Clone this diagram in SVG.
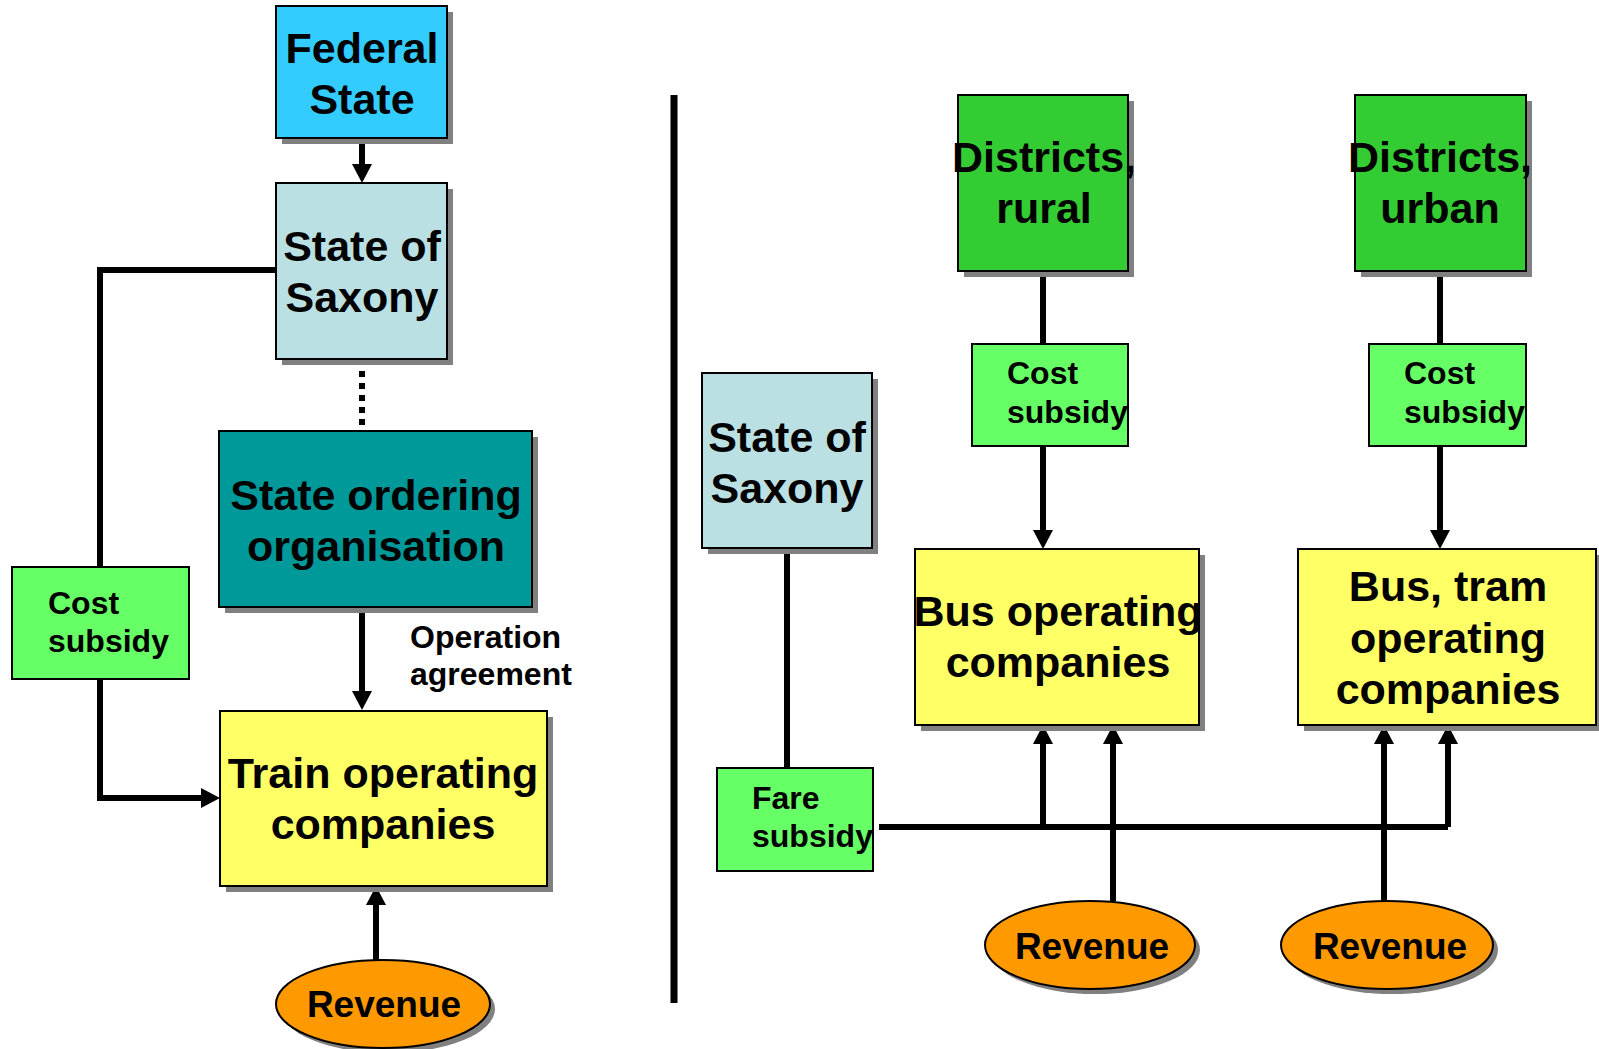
<svg xmlns="http://www.w3.org/2000/svg" width="1599" height="1049" viewBox="0 0 1599 1049">
<style>
text{font-family:"Liberation Sans",Arial,sans-serif;font-weight:bold;fill:#000}
.big{font-size:43px;text-anchor:middle}
.sm{font-size:32px}
.rev{font-size:37px;text-anchor:middle}
.box{stroke:#000;stroke-width:2}
.sh{fill:#808080}
.ln{fill:none;stroke:#000;stroke-width:6}
</style>
<defs>
<marker id="ah" viewBox="0 0 19 20" refX="2" refY="10" markerWidth="19" markerHeight="20" markerUnits="userSpaceOnUse" orient="auto">
<path d="M0,0 L19,10 L0,20 z" fill="#000"/>
</marker>
</defs>
<rect width="1599" height="1049" fill="#fff"/>

<g id="connectors">
<line class="ln" x1="674" y1="95" x2="674" y2="1003" style="stroke-width:7"/>
<path class="ln" d="M362,138 V166" marker-end="url(#ah)"/>
<path class="ln" d="M362,359 V431" style="stroke-dasharray:6 6"/>
<path class="ln" d="M362,607 V693" marker-end="url(#ah)"/>
<path class="ln" d="M376,960 V903" marker-end="url(#ah)"/>
<path class="ln" d="M276,270 H100 V567"/>
<path class="ln" d="M100,679 V798 H203" marker-end="url(#ah)"/>
<path class="ln" d="M1043,270 V344"/>
<path class="ln" d="M1440,270 V344"/>
<path class="ln" d="M1043,446 V532" marker-end="url(#ah)"/>
<path class="ln" d="M1440,446 V532" marker-end="url(#ah)"/>
<path class="ln" d="M787,548 V768"/>
<path class="ln" d="M879,827 H1448"/>
<path class="ln" d="M1043,827 V742" marker-end="url(#ah)"/>
<path class="ln" d="M1448,827 V742" marker-end="url(#ah)"/>
<path class="ln" d="M1113,901 V742" marker-end="url(#ah)"/>
<path class="ln" d="M1384,901 V742" marker-end="url(#ah)"/>
</g>

<g id="federal-state">
<rect class="sh" x="282" y="12" width="171" height="132"/>
<rect class="box" x="276" y="6" width="171" height="132" fill="#33CCFF"/>
<text class="big" x="362" y="63">Federal</text>
<text class="big" x="362" y="114">State</text>
</g>

<g id="state-of-saxony-left">
<rect class="sh" x="282" y="189" width="171" height="176"/>
<rect class="box" x="276" y="183" width="171" height="176" fill="#BBE0E3"/>
<text class="big" x="362" y="261">State of</text>
<text class="big" x="362" y="312">Saxony</text>
</g>

<g id="state-ordering-organisation">
<rect class="sh" x="225" y="437" width="313" height="176"/>
<rect class="box" x="219" y="431" width="313" height="176" fill="#009999"/>
<text class="big" x="376" y="510">State ordering</text>
<text class="big" x="376" y="561">organisation</text>
</g>

<g id="operation-agreement-label">
<text class="sm" x="410" y="648">Operation</text>
<text class="sm" x="410" y="685">agreement</text>
</g>

<g id="cost-subsidy-left">
<rect class="box" x="12" y="567" width="177" height="112" fill="#66FF66"/>
<text class="sm" x="48" y="614">Cost</text>
<text class="sm" x="48" y="652">subsidy</text>
</g>

<g id="train-operating-companies">
<rect class="sh" x="226" y="717" width="327" height="175"/>
<rect class="box" x="220" y="711" width="327" height="175" fill="#FFFF66"/>
<text class="big" x="383" y="788">Train operating</text>
<text class="big" x="383" y="839">companies</text>
</g>

<g id="revenue-left">
<ellipse class="sh" cx="388" cy="1009" rx="107" ry="44"/>
<ellipse class="box" cx="383" cy="1004" rx="107" ry="44" fill="#FF9900"/>
<text class="rev" x="384" y="1017">Revenue</text>
</g>

<g id="state-of-saxony-right">
<rect class="sh" x="708" y="379" width="170" height="175"/>
<rect class="box" x="702" y="373" width="170" height="175" fill="#BBE0E3"/>
<text class="big" x="787" y="452">State of</text>
<text class="big" x="787" y="503">Saxony</text>
</g>

<g id="fare-subsidy">
<rect class="box" x="717" y="768" width="156" height="103" fill="#66FF66"/>
<text class="sm" x="752" y="809">Fare</text>
<text class="sm" x="752" y="847">subsidy</text>
</g>

<g id="districts-rural">
<rect class="sh" x="964" y="101" width="170" height="176"/>
<rect class="box" x="958" y="95" width="170" height="176" fill="#33CC33"/>
<text class="big" x="1044" y="172">Districts,</text>
<text class="big" x="1044" y="223">rural</text>
</g>

<g id="cost-subsidy-rural">
<rect class="box" x="972" y="344" width="156" height="102" fill="#66FF66"/>
<text class="sm" x="1007" y="384">Cost</text>
<text class="sm" x="1007" y="423">subsidy</text>
</g>

<g id="bus-operating-companies">
<rect class="sh" x="921" y="555" width="284" height="176"/>
<rect class="box" x="915" y="549" width="284" height="176" fill="#FFFF66"/>
<text class="big" x="1058" y="626">Bus operating</text>
<text class="big" x="1058" y="677">companies</text>
</g>

<g id="districts-urban">
<rect class="sh" x="1361" y="101" width="171" height="176"/>
<rect class="box" x="1355" y="95" width="171" height="176" fill="#33CC33"/>
<text class="big" x="1440" y="172">Districts,</text>
<text class="big" x="1440" y="223">urban</text>
</g>

<g id="cost-subsidy-urban">
<rect class="box" x="1369" y="344" width="157" height="102" fill="#66FF66"/>
<text class="sm" x="1404" y="384">Cost</text>
<text class="sm" x="1404" y="423">subsidy</text>
</g>

<g id="bus-tram-operating-companies">
<rect class="sh" x="1304" y="555" width="298" height="176"/>
<rect class="box" x="1298" y="549" width="298" height="176" fill="#FFFF66"/>
<text class="big" x="1448" y="601">Bus, tram</text>
<text class="big" x="1448" y="653">operating</text>
<text class="big" x="1448" y="704">companies</text>
</g>

<g id="revenue-rural">
<ellipse class="sh" cx="1095" cy="950" rx="105" ry="44"/>
<ellipse class="box" cx="1090" cy="945" rx="105" ry="44" fill="#FF9900"/>
<text class="rev" x="1092" y="959">Revenue</text>
</g>

<g id="revenue-urban">
<ellipse class="sh" cx="1392" cy="950" rx="106" ry="44"/>
<ellipse class="box" cx="1387" cy="945" rx="106" ry="44" fill="#FF9900"/>
<text class="rev" x="1390" y="959">Revenue</text>
</g>
</svg>
